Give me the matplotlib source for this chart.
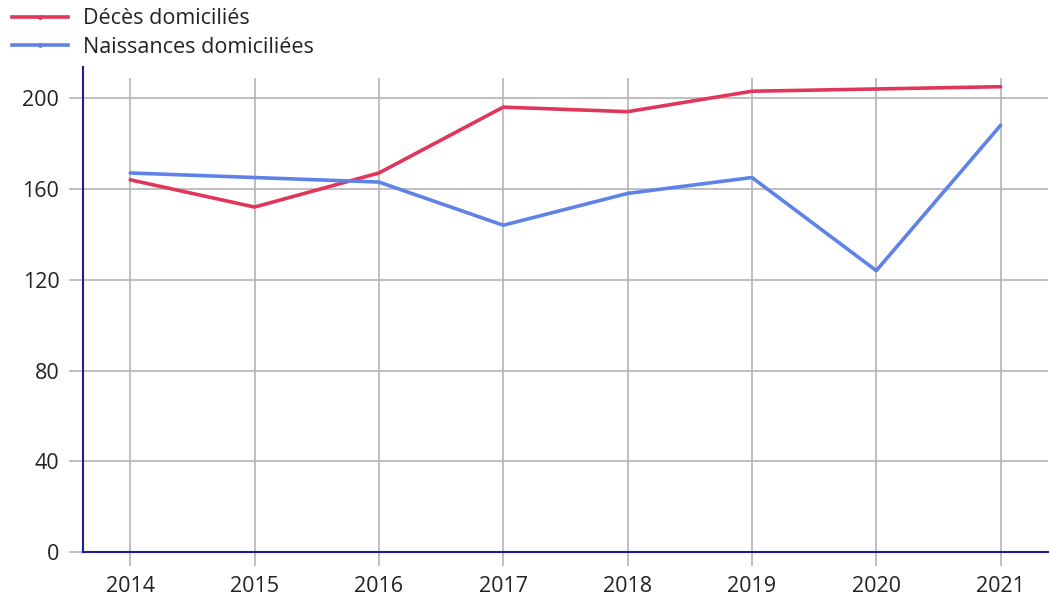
import matplotlib
matplotlib.use("Agg")
import matplotlib.pyplot as plt
from matplotlib.lines import Line2D

plt.rcParams["font.family"] = ["Open Sans", "DejaVu Sans"]

years = [2014, 2015, 2016, 2017, 2018, 2019, 2020, 2021]
deces = [164, 152, 167, 196, 194, 203, 204, 205]
naissances = [167, 165, 163, 144, 158, 165, 124, 188]
yticks = [0, 40, 80, 120, 160, 200]

RED = "#e0365a"
BLUE = "#5f82e6"
AXIS = "#1c1c96"
GRID = "#b4b4b4"

fig = plt.figure(figsize=(10.5, 5.97), dpi=100)
ax = fig.add_axes([0.079, 0.075, 0.919, 0.795])

ax.plot(years, deces, color=RED, lw=2.6, solid_capstyle="round")
ax.plot(years, naissances, color=BLUE, lw=2.6, solid_capstyle="round")

ax.set_xlim(2013.62, 2021.38)
ax.set_ylim(0, 209)
ax.set_xticks(years)
ax.set_yticks(yticks)
ax.grid(True, color=GRID, lw=1.2)
ax.set_axisbelow(True)
ax.tick_params(axis="both", colors=GRID, length=10, width=1.2, labelsize=15.5,
               labelcolor="#222222", pad=7)

for s in ("top", "right"):
    ax.spines[s].set_visible(False)
for s in ("left", "bottom"):
    ax.spines[s].set_color(AXIS)
    ax.spines[s].set_linewidth(1.5)
# la barre verticale dépasse un peu le haut de la grille
ax.spines["left"].set_bounds(0, 213.5)

handles = [Line2D([], [], color=RED, lw=2.6, marker="o", markersize=2.5),
           Line2D([], [], color=BLUE, lw=2.6, marker="o", markersize=2.5)]
fig.legend(handles, ["Décès domiciliés", "Naissances domiciliées"],
           loc="upper left", bbox_to_anchor=(-0.005, 1.015), frameon=False,
           fontsize=15.5, handlelength=2.6, handletextpad=0.7, labelspacing=0.35,
           borderpad=0.3, labelcolor="#222222")

fig.savefig("out.png", dpi=100)
